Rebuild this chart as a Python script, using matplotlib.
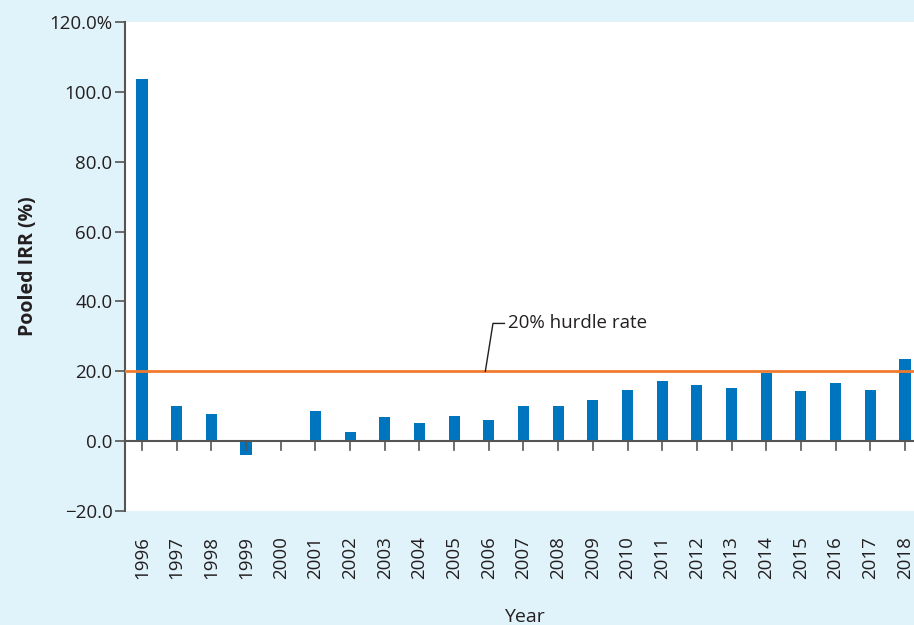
import matplotlib
matplotlib.use("Agg")
import matplotlib.pyplot as plt

years = [str(y) for y in range(1996, 2019)]
irr = [103.7, 10.0, 7.7, -4.1, 0.2, 8.6, 2.6, 6.9, 5.2, 7.2, 6.0,
       10.0, 10.0, 11.7, 14.6, 17.2, 16.0, 15.2, 19.5, 14.3, 16.6, 14.6, 23.5]
hurdle = 20.0
yticks = [-20, 0, 20, 40, 60, 80, 100, 120]
ytick_labels = ["\u221220.0", "0.0", "20.0", "40.0", "60.0", "80.0", "100.0", "120.0%"]

plt.rcParams['font.family'] = ['Open Sans', 'DejaVu Sans']
text_col = "#231f20"
bg = "#e0f2fa"

fig = plt.figure(figsize=(9.14, 6.25), dpi=100, facecolor=bg)
ax = fig.add_axes([125/914, 114/625, 1 - 125/914, 489/625])
ax.set_facecolor("white")

x = list(range(len(years)))
ax.bar(x, irr, width=0.32, color="#0075bf", zorder=2)
ax.axhline(hurdle, color="#f07b2f", lw=2, zorder=3)
ax.axhline(0, color="#555555", lw=1.5, zorder=2)

ax.set_xlim(-0.49, len(years) - 1 + 0.26)
ax.set_ylim(-20, 120)
ax.set_yticks(yticks)
ax.set_yticklabels(ytick_labels, fontsize=13.5, color=text_col)
ax.set_xticks(x)
ax.set_xticklabels(years, rotation=90, fontsize=13.5, color=text_col)

for s in ["top", "right", "bottom"]:
    ax.spines[s].set_visible(False)
ax.spines["left"].set_color("#555555")
ax.spines["left"].set_linewidth(1.5)
ax.tick_params(axis="y", length=7, width=1.2, color="#555555", pad=2)
ax.tick_params(axis="x", length=0, pad=18)

# x ticks hang below the zero line
for xi in x:
    ax.plot([xi, xi], [0, -2.4], color="#555555", lw=1.2, clip_on=False, zorder=2)

# annotation for hurdle line
ax.plot([9.9, 10.12, 10.45], [hurdle, 33.7, 33.7], color=text_col, lw=1, zorder=4)
ax.text(10.55, 33.7, "20% hurdle rate", fontsize=13.5, color=text_col, va="center", ha="left")

ax.set_ylabel("Pooled IRR (%)", fontsize=14, fontweight="bold", color=text_col, labelpad=8)
fig.text(524/914, 1 - 617/625, "Year", fontsize=14, color=text_col, ha="center", va="center")

fig.savefig("out.png", dpi=100, facecolor=bg)
